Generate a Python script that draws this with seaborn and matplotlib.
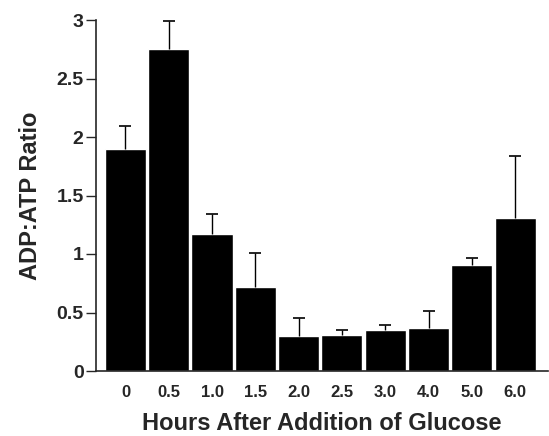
import matplotlib
matplotlib.use("Agg")
import matplotlib.pyplot as plt
import seaborn as sns
import numpy as np
import pandas as pd

# Hours after glucose addition, ADP:ATP ratio means and upper error
hours = ['0', '0.5', '1.0', '1.5', '2.0', '2.5', '3.0', '4.0', '5.0', '6.0']
ratio = [1.90, 2.75, 1.17, 0.72, 0.30, 0.31, 0.35, 0.37, 0.91, 1.31]
err_top = [2.09, 2.99, 1.34, 1.01, 0.45, 0.35, 0.39, 0.51, 0.97, 1.84]

df = pd.DataFrame({'Hours': hours, 'Ratio': ratio})

sns.set_style('ticks')
plt.rcParams['font.family'] = ['Liberation Sans', 'DejaVu Sans']
plt.rcParams['font.weight'] = 'bold'

fig = plt.figure(figsize=(5.49, 4.36), dpi=100)
ax = fig.add_axes([96 / 549, 1 - 371 / 436, 452 / 549, 351 / 436])

sns.barplot(data=df, x='Hours', y='Ratio', color='black', width=0.95,
            saturation=1, ax=ax)

# upward-only error bars with a cap at the top
xpos = np.arange(len(hours))
ax.vlines(xpos, ratio, err_top, color='black', linewidth=1)
ax.plot(xpos, err_top, linestyle='none', marker='_', markersize=8,
        markeredgewidth=1.2, color='black')

ax.set_xlim(-0.68, 9.76)
ax.set_ylim(0, 3)
ax.set_yticks([0, 0.5, 1, 1.5, 2, 2.5, 3])
ax.set_yticklabels(['0', '0.5', '1', '1.5', '2', '2.5', '3'])
ax.tick_params(axis='y', length=7, width=1, pad=2, labelsize=14)
ax.tick_params(axis='x', length=0, pad=10, labelsize=12)
for lab in ax.get_xticklabels() + ax.get_yticklabels():
    lab.set_fontweight('bold')

ax.set_xlabel('Hours After Addition of Glucose', fontsize=17, fontweight='bold', labelpad=9)
ax.set_ylabel('ADP:ATP Ratio', fontsize=17, fontweight='bold', labelpad=10)

for s in ['top', 'right']:
    ax.spines[s].set_visible(False)
ax.spines['left'].set_linewidth(1.2)
ax.spines['bottom'].set_linewidth(1.2)

fig.savefig('out.png', dpi=100)
